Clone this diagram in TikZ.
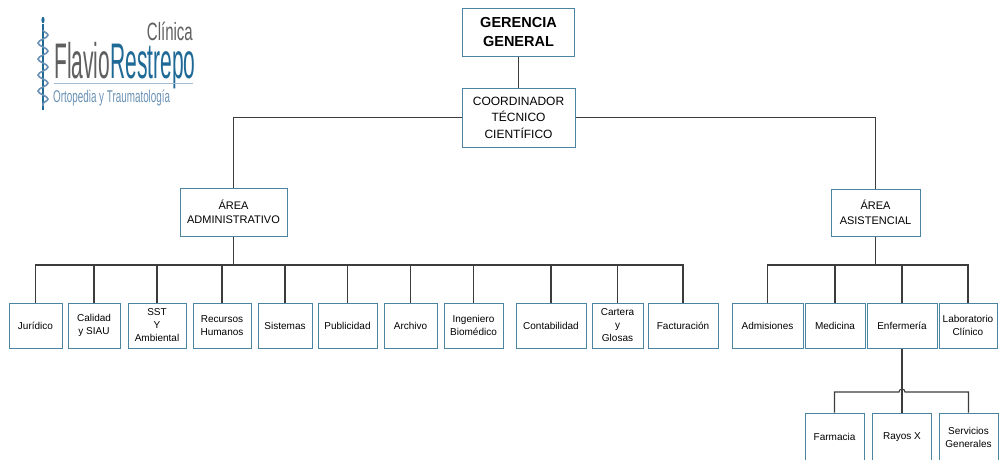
\documentclass[tikz,border=0pt]{standalone}
\usepackage{fontspec}
\setmainfont{Liberation Sans}
\usetikzlibrary{decorations.pathmorphing}
\definecolor{borde}{RGB}{74,132,160}
\definecolor{linea}{RGB}{60,60,60}
\definecolor{logoazul}{RGB}{30,105,150}
\definecolor{logogris}{RGB}{95,95,95}
\definecolor{logoclaro}{RGB}{105,145,180}
\tikzset{caja/.style={draw=borde, line width=1pt, fill=white, align=center, inner sep=1pt}}
\tikzset{chica/.style={caja, font=\fontsize{10}{13}\selectfont}}
\tikzset{rama/.style={draw=linea, line width=1.1pt}}
\tikzset{snake it/.style={decorate, decoration=snake}}

\begin{document}
\begin{tikzpicture}[x=1pt, y=-1pt]

\useasboundingbox (0,0) rectangle (1000,459);

\def \filaA {325.5} % y of the first row of boxes
\def \filaB {437}

% logo
  \draw[logoazul, line width=1.4pt] (43,24) -- (43,110);
  \fill[logoazul] (43,20) ellipse (1.6 and 3.2);
  \draw[logoclaro, line width=1.6pt, snake it, decoration={amplitude=5pt, segment length=16pt}]
    (43,30) -- (43,106);
  \node[anchor=base east, inner sep=0pt, text depth=0pt, text=logogris, font=\fontsize{25}{25}\selectfont]
    (clin) at (193,40) {\scalebox{0.6}[1]{Clínica}};
  \node[anchor=base west, inner sep=0pt, text height=36pt, font=\fontsize{50}{50}\selectfont]
    (flav) at (54,78) {\scalebox{0.42}[1]{\color{logogris}Flavio\color{logoazul}Restrepo}};
  \draw[logoclaro!60, line width=1pt] (54,83) -- (193,83);
  \node[anchor=base west, inner sep=0pt, text=logoclaro, font=\fontsize{17}{17}\selectfont]
    (orto) at (53,102) {\scalebox{0.58}[1]{Ortopedia y Traumatología}};

% upper levels
  \node[caja, font=\bfseries\fontsize{14.5}{19}\selectfont, minimum width=112pt, minimum height=48pt]
    (ger) at (518.5,32) {GERENCIA\\GENERAL};
  \node[caja, font=\fontsize{12}{16.5}\selectfont, minimum width=113pt, minimum height=59pt]
    (coord) at (518.5,117.5) {COORDINADOR\\TÉCNICO\\CIENTÍFICO};
  \node[caja, font=\fontsize{11}{14.5}\selectfont, minimum width=107pt, minimum height=48pt]
    (adm) at (233.5,212) {ÁREA\\ADMINISTRATIVO};
  \node[caja, font=\fontsize{11}{14.5}\selectfont, minimum width=89pt, minimum height=47pt]
    (asis) at (875.5,212.5) {ÁREA\\ASISTENCIAL};

  \draw[rama] (ger.south) -- (coord.north);
  \draw[rama] (coord.west) -| (adm.north);
  \draw[rama] (coord.east) -| (asis.north);

% administrative row
  \foreach \nom/\cx/\w/\txt in {jur/35.5/53/{Jurídico}, cal/94/52/{Calidad\\y SIAU},
      sst/157/58/{SST\\Y\\Ambiental}, rrhh/222/58/{Recursos\\Humanos}, sis/285/54/{Sistemas},
      pub/347.5/59/{Publicidad}, arch/410.5/53/{Archivo}, ing/473.5/59/{Ingeniero\\Biomédico},
      con/551/70/{Contabilidad}, car/617.5/51/{Cartera\\y\\Glosas}, fac/683/70/{Facturación}}
    \node[chica, minimum width=\w pt, minimum height=45pt] (\nom) at (\cx,\filaA) {\txt};

  \coordinate (busA) at (233.5,265);
  \draw[rama] (adm.south) -- (busA);
  \foreach \nom in {jur,cal,sst,rrhh,sis,pub,arch,ing,con,car,fac}
    \draw[rama] (busA) -| (\nom.north);

% care row
  \foreach \nom/\cx/\w/\txt in {admi/767.5/71/{Admisiones}, med/835/60/{Medicina},
      enf/902/70/{Enfermería}, lab/968/58/{Laboratorio\\Clínico}}
    \node[chica, minimum width=\w pt, minimum height=45pt] (\nom) at (\cx,\filaA) {\txt};

  \coordinate (busB) at (875.5,265);
  \draw[rama] (asis.south) -- (busB);
  \foreach \nom in {admi,med,enf,lab}
    \draw[rama] (busB) -| (\nom.north);

% nursing
  \foreach \nom/\cx/\txt in {far/834.5/{Farmacia}, ray/902/{Rayos X}, ser/968.5/{Servicios\\Generales}}
    \node[chica, minimum width=59pt, minimum height=48pt] (\nom) at (\cx,\filaB) {\txt};

  \coordinate (busC) at (902,392);
  \draw[rama] (enf.south) -- (ray.north);
  \draw[rama] (far.north) |- ([xshift=-3pt]busC) arc (180:0:3pt) -| (ser.north);

\end{tikzpicture}
\end{document}
